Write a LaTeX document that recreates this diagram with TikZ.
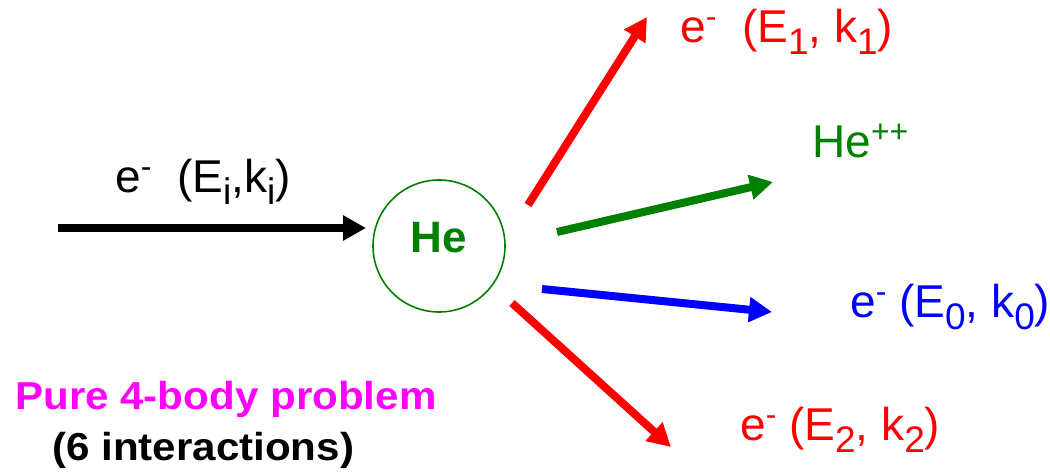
\documentclass[tikz,border=0pt]{standalone}
\usepackage{fontspec}
\setmainfont{Liberation Sans}
\usetikzlibrary{arrows.meta}
\definecolor{pgreen}{RGB}{0,128,0}
\definecolor{pred}{RGB}{255,0,0}
\definecolor{pblue}{RGB}{0,0,255}
\definecolor{pmag}{RGB}{255,0,255}
\newcommand\lsb[1]{\raisebox{-12pt}{\fontsize{37}{37}\selectfont #1}}
\newcommand\lsp[1]{\raisebox{15pt}{\fontsize{32}{32}\selectfont #1}}
\tikzset{
  flow/.style={line width=8pt,-{Triangle[length=23pt,width=24pt]}},
  lbl/.style={anchor=base west,inner sep=0pt,font=\fontsize{46}{54}\selectfont},
  note/.style={anchor=base west,inner sep=0pt,xscale=1.08,font=\fontsize{39}{46}\selectfont\bfseries},
}
\begin{document}
\begin{tikzpicture}[x=1pt,y=-1pt]
\useasboundingbox (0,0) rectangle (1050,473);
\node[circle,draw=pgreen,line width=1.6pt,minimum size=132pt,inner sep=0pt] (he) at (439,246) {};
\node[text=pgreen,inner sep=0pt,font=\fontsize{44}{46}\selectfont\bfseries] (hetxt) at (439,238) {He};
% incoming
\coordinate (in0) at (58,228);
\coordinate (in1) at (366,228);
\draw[flow,black] (in0) -- (in1);
\node[lbl] (lin) at (115,193) {e\lsp{-}\ \ (E\lsb{i},k\lsb{i})};
% outgoing
\coordinate (a0) at (528,205); \coordinate (a1) at (647,17);
\coordinate (b0) at (557,232); \coordinate (b1) at (773,182);
\coordinate (c0) at (542,289); \coordinate (c1) at (772,312);
\coordinate (d0) at (512,303); \coordinate (d1) at (671,447);
\draw[flow,pred] (a0) -- (a1);
\draw[flow,pgreen] (b0) -- (b1);
\draw[flow,pblue] (c0) -- (c1);
\draw[flow,pred] (d0) -- (d1);
\node[lbl,text=pred] (l1) at (680,43) {e\lsp{-}\ \ (E\lsb{1}, k\lsb{1})};
\node[lbl,text=pgreen] (lhe) at (812,158) {He\lsp{++}};
\node[lbl,text=pblue] (l0) at (850,317) {e\lsp{-} (E\lsb{0}, k\lsb{0})};
\node[lbl,text=pred] (l2) at (740,440) {e\lsp{-} (E\lsb{2}, k\lsb{2})};
% notes
\node[note,text=pmag] (n1) at (15,409) {Pure 4-body problem};
\node[note,text=black] (n2) at (52,460) {(6 interactions)};
\end{tikzpicture}
\end{document}
